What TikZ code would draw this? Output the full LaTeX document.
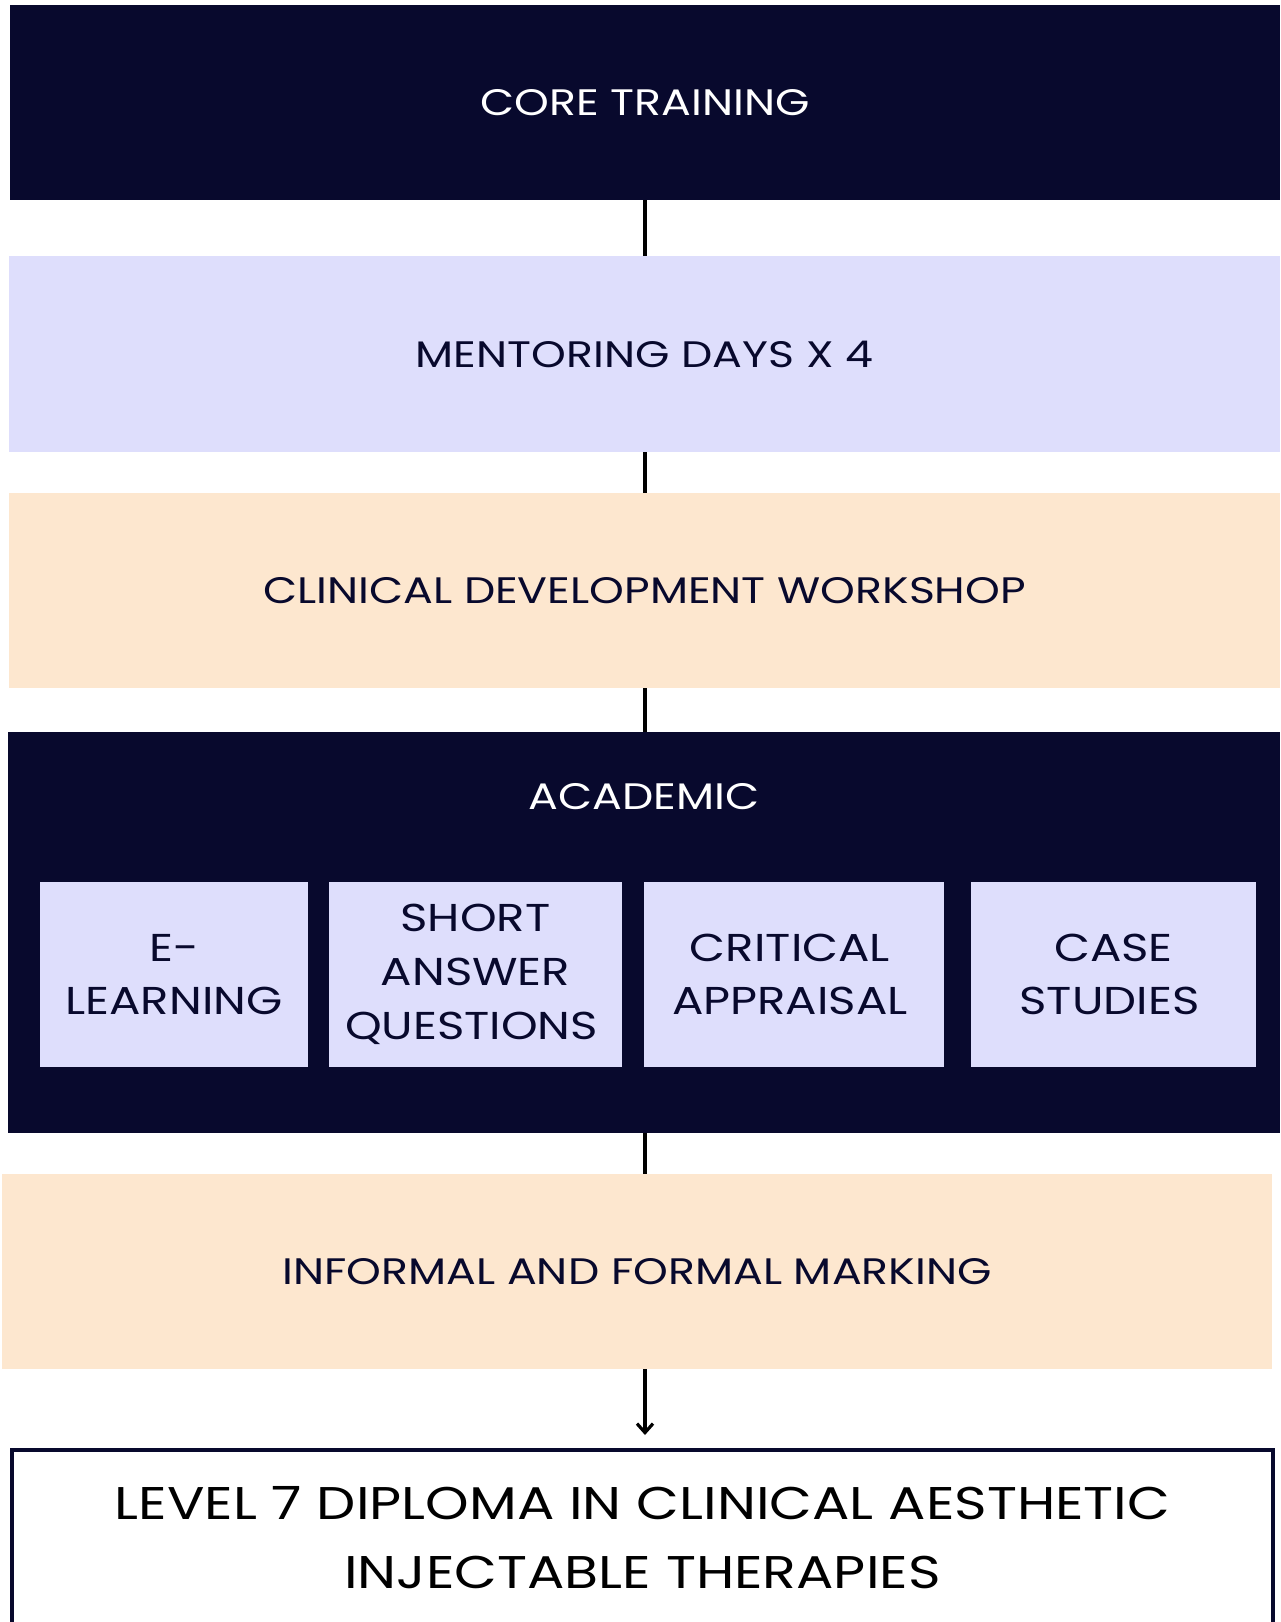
\documentclass[tikz,border=0pt]{standalone}
\usepackage{fontspec}
\setmainfont{Poppins}[FakeStretch=1.2]
\newfontfamily\finalfont{Poppins}[FakeStretch=1.21]
\usetikzlibrary{arrows.meta}
\definecolor{navy}{RGB}{8,9,45}
\definecolor{lav}{RGB}{222,222,252}
\definecolor{peach}{RGB}{253,231,207}
\tikzset{
  band/.style={rectangle, inner sep=0pt, outer sep=0pt, align=center,
    font=\fontsize{37}{54}\selectfont},
  darkband/.style={band, fill=navy, text=white},
  lavband/.style={band, fill=lav, text=navy},
  peachband/.style={band, fill=peach, text=navy},
  subbox/.style={rectangle, inner sep=0pt, outer sep=0pt, align=center, fill=lav, text=navy,
    font=\fontsize{39}{54}\selectfont, minimum height=185bp},
  conn/.style={line width=3.2bp, draw=black},
  arrowconn/.style={conn, -{Straight Barb[length=9bp, width=16bp, line width=3.2bp]}},
}
\begin{document}
\begin{tikzpicture}[x=1bp, y=-1bp]
\useasboundingbox (0,0) rectangle (1280,1622);
\clip (0,0) rectangle (1280,1622);
\fill[white] (0,0) rectangle (1280,1622);
% bands
\node[darkband, minimum width=1270bp, minimum height=195bp] (core) at (645,102.5) {CORE TRAINING};
\node[lavband, minimum width=1271bp, minimum height=196bp] (ment) at (644.5,354) {MENTORING DAYS X 4};
\node[peachband, minimum width=1271bp, minimum height=195bp] (clin) at (644.5,590.5) {CLINICAL DEVELOPMENT WORKSHOP};
\node[darkband, minimum width=1272bp, minimum height=401bp] (acad) at (644,932) {};
\node[band, text=white] (acadlbl) at (644,797) {ACADEMIC};
\node[subbox, minimum width=268bp] (elearn) at (174,974.5) {E-\\LEARNING};
\node[subbox, minimum width=293bp] (saq) at (475.5,974.5) {SHORT\\ANSWER\\QUESTIONS\hspace*{8bp}};
\node[subbox, minimum width=300bp] (crit) at (794,974.5) {CRITICAL\hspace*{8bp}\\APPRAISAL\hspace*{8bp}};
\node[subbox, minimum width=285bp] (case) at (1113.5,974.5) {CASE\\STUDIES\hspace*{8bp}};
\node[peachband, minimum width=1270bp, minimum height=195bp] (mark) at (637,1271.5) {INFORMAL AND FORMAL MARKING};
\node[rectangle, draw=navy, line width=4bp, fill=white, inner sep=0pt, align=center, text=black,
  minimum width=1261bp, minimum height=175bp, font=\finalfont\fontsize{46}{69}\selectfont]
  (final) at (642.5,1537.5) {LEVEL 7 DIPLOMA IN CLINICAL AESTHETIC\\INJECTABLE THERAPIES};
% connectors
\draw[conn] (core.south) -- (core.south |- ment.north);
\draw[conn] (core.south |- ment.south) -- (core.south |- clin.north);
\draw[conn] (core.south |- clin.south) -- (core.south |- acad.north);
\draw[conn] (core.south |- acad.south) -- (core.south |- mark.north);
\draw[arrowconn, shorten >=13bp] (core.south |- mark.south) -- (core.south |- final.north);
\end{tikzpicture}
\end{document}
